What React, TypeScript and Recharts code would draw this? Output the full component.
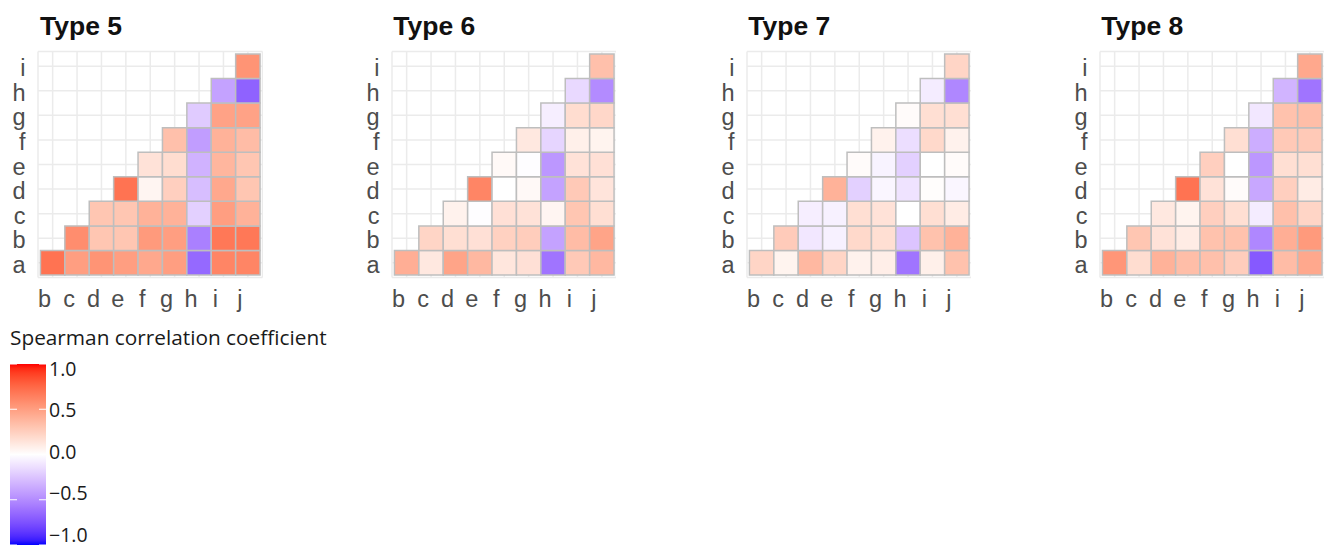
import React from 'react';
import { ScatterChart, Scatter, XAxis, YAxis, CartesianGrid, ReferenceArea } from 'recharts';

// ---------- data ----------
const xCategories = ['b', 'c', 'd', 'e', 'f', 'g', 'h', 'i', 'j'];
const yCategories = ['a', 'b', 'c', 'd', 'e', 'f', 'g', 'h', 'i'];
const panelTitles = ['Type 5', 'Type 6', 'Type 7', 'Type 8'];
const legendTitle = 'Spearman correlation coefficient';
const legendTicks = [1.0, 0.5, 0.0, -0.5, -1.0];

// each row (a..i) lists the coefficients for the columns after it, up to j
const type5 = [
  [0.70, 0.50, 0.55, 0.50, 0.45, 0.50, -0.65, 0.62, 0.62],
  [0.58, 0.30, 0.30, 0.52, 0.50, -0.55, 0.68, 0.68],
  [0.30, 0.30, 0.40, 0.40, -0.20, 0.50, 0.40],
  [0.70, 0.05, 0.25, -0.28, 0.45, 0.30],
  [0.15, 0.18, -0.33, 0.38, 0.30],
  [0.33, -0.42, 0.40, 0.35],
  [-0.22, 0.48, 0.48],
  [-0.40, -0.68],
  [0.55],
];
const type6 = [
  [0.42, 0.12, 0.47, 0.37, 0.13, 0.16, -0.60, 0.28, 0.37],
  [0.22, 0.17, 0.16, 0.24, 0.26, -0.40, 0.35, 0.47],
  [0.07, -0.01, 0.16, 0.15, 0.05, 0.30, 0.17],
  [0.62, 0.00, 0.03, -0.40, 0.28, 0.14],
  [0.03, -0.01, -0.45, 0.15, 0.16],
  [0.12, -0.18, 0.08, 0.06],
  [-0.07, 0.18, 0.21],
  [-0.16, -0.50],
  [0.33],
];
const type7 = [
  [0.22, 0.06, 0.37, 0.22, 0.07, 0.09, -0.60, 0.08, 0.32],
  [0.27, -0.10, -0.06, 0.20, 0.17, -0.25, 0.32, 0.40],
  [-0.07, -0.06, 0.17, 0.15, 0.00, 0.17, 0.10],
  [0.40, -0.20, -0.04, -0.12, 0.01, -0.04],
  [0.02, -0.05, -0.20, 0.00, 0.02],
  [0.07, -0.14, 0.20, 0.07],
  [0.02, 0.17, 0.17],
  [-0.08, -0.52],
  [0.22],
];
const type8 = [
  [0.54, 0.18, 0.40, 0.34, 0.33, 0.26, -0.72, 0.35, 0.45],
  [0.30, 0.15, 0.10, 0.32, 0.32, -0.52, 0.42, 0.52],
  [0.12, 0.06, 0.25, 0.17, -0.08, 0.33, 0.22],
  [0.70, 0.15, 0.02, -0.38, 0.25, 0.10],
  [0.25, 0.00, -0.45, 0.17, 0.17],
  [0.17, -0.35, 0.28, 0.28],
  [-0.10, 0.32, 0.34],
  [-0.32, -0.60],
  [0.45],
];
const panelValues = [type5, type6, type7, type8];

// ---------- colour scale (white -> red / blue, Lab interpolation) ----------
const Xn = 0.95047, Yn = 1.0, Zn = 1.08883;
function toLin(c: number) { c /= 255; return c <= 0.04045 ? c / 12.92 : Math.pow((c + 0.055) / 1.055, 2.4); }
function fromLin(c: number) { const v = c <= 0.0031308 ? 12.92 * c : 1.055 * Math.pow(c, 1 / 2.4) - 0.055; return Math.round(Math.max(0, Math.min(1, v)) * 255); }
function rgbToLab(rgb: number[]) {
  const [r, g, b] = rgb.map(toLin);
  const X = (0.4124 * r + 0.3576 * g + 0.1805 * b) / Xn;
  const Y = (0.2126 * r + 0.7152 * g + 0.0722 * b) / Yn;
  const Z = (0.0193 * r + 0.1192 * g + 0.9505 * b) / Zn;
  const f = (t: number) => (t > 0.008856 ? Math.cbrt(t) : 7.787 * t + 16 / 116);
  const fx = f(X), fy = f(Y), fz = f(Z);
  return [116 * fy - 16, 500 * (fx - fy), 200 * (fy - fz)];
}
function labToHex(lab: number[]) {
  const [L, a, b] = lab;
  const fy = (L + 16) / 116, fx = fy + a / 500, fz = fy - b / 200;
  const finv = (t: number) => (t * t * t > 0.008856 ? t * t * t : (t - 16 / 116) / 7.787);
  const X = finv(fx) * Xn, Y = finv(fy) * Yn, Z = finv(fz) * Zn;
  const r = 3.2406 * X - 1.5372 * Y - 0.4986 * Z;
  const g = -0.9689 * X + 1.8758 * Y + 0.0415 * Z;
  const bb = 0.0557 * X - 0.204 * Y + 1.057 * Z;
  return '#' + [fromLin(r), fromLin(g), fromLin(bb)].map((v) => v.toString(16).padStart(2, '0')).join('');
}
const LAB_WHITE = rgbToLab([255, 255, 255]);
const LAB_RED = rgbToLab([255, 0, 0]);
const LAB_BLUE = rgbToLab([0, 0, 255]);
function corrColor(v: number) {
  const t = Math.min(1, Math.abs(v));
  const end = v >= 0 ? LAB_RED : LAB_BLUE;
  return labToHex(LAB_WHITE.map((w, i) => w + (end[i] - w) * t));
}

// ---------- layout ----------
const PANEL_LEFTS = [38.3, 391.6, 746.6, 1099.6];
const PLOT_TOP = 51.5;
const PLOT_W = 224.5;
const PLOT_H = 226;
const Y_AXIS_W = 36;
const X_AXIS_H = 40;
const tickNums = xCategories.map((_, i) => i + 1);
const TICK_FONT = '"Liberation Sans", Arial, sans-serif';

const XTick = (props: any) => {
  const { x, y, payload } = props;
  return (
    <text x={x - 8} y={y + 29.5} textAnchor="middle" fontSize={23.5} fontFamily={TICK_FONT} fill="#4D4D4D">
      {xCategories[payload.value - 1]}
    </text>
  );
};
const YTick = (props: any) => {
  const { x, y, payload } = props;
  return (
    <text x={x - 12.5} y={y + 10} textAnchor="end" fontSize={23.5} fontFamily={TICK_FONT} fill="#4D4D4D">
      {yCategories[payload.value - 1]}
    </text>
  );
};

function Panel({ values, left }: { values: number[][]; left: number }) {
  const cells: { x: number; y: number; v: number }[] = [];
  values.forEach((row, r) => row.forEach((v, k) => cells.push({ x: r + k + 1, y: r + 1, v })));
  return (
    <div style={{ position: 'absolute', left: left - Y_AXIS_W, top: 0 }}>
      <ScatterChart
        width={Y_AXIS_W + PLOT_W}
        height={PLOT_TOP + PLOT_H + X_AXIS_H}
        margin={{ top: PLOT_TOP, right: 0, bottom: 0, left: 0 }}
      >
        <CartesianGrid stroke="#EBEBEB" strokeWidth={1.5} />
        <XAxis
          type="number"
          dataKey="x"
          domain={[0.4, 9.6]}
          ticks={tickNums}
          interval={0}
          axisLine={false}
          tickLine={false}
          tickSize={0}
          tickMargin={0}
          height={X_AXIS_H}
          tick={<XTick />}
        />
        <YAxis
          type="number"
          dataKey="y"
          domain={[0.4, 9.6]}
          ticks={tickNums}
          interval={0}
          axisLine={false}
          tickLine={false}
          tickSize={0}
          tickMargin={0}
          width={Y_AXIS_W}
          tick={<YTick />}
        />
        {cells.map((c, i) => (
          <ReferenceArea
            key={i}
            x1={c.x - 0.5}
            x2={c.x + 0.5}
            y1={c.y - 0.5}
            y2={c.y + 0.5}
            fill={corrColor(c.v)}
            fillOpacity={1}
            stroke="#BEBEBE"
            strokeWidth={1.5}
            ifOverflow="visible"
          />
        ))}
        <Scatter data={cells} isAnimationActive={false} shape={() => <g />} />
      </ScatterChart>
    </div>
  );
}

function Overlay() {
  const BAR_X = 10, BAR_Y = 364, BAR_W = 36, BAR_H = 181;
  const LABEL_TOP = 369, LABEL_SPAN = 166;
  const stops = Array.from({ length: 41 }, (_, i) => i / 40);
  const fmt = (v: number) => (v < 0 ? '\u2212' : '') + Math.abs(v).toFixed(1);
  const legendFont = '"Open Sans", "Noto Sans", sans-serif';
  return (
    <svg width={1326} height={550} style={{ position: 'absolute', left: 0, top: 0, pointerEvents: 'none' }}>
      <defs>
        <linearGradient id="corrGrad" x1="0" y1="0" x2="0" y2="1">
          {stops.map((s) => (
            <stop key={s} offset={s} stopColor={corrColor(1 - 2 * s)} />
          ))}
        </linearGradient>
      </defs>
      {panelTitles.map((t, i) => (
        <text key={t} x={PANEL_LEFTS[i] + 1.7} y={35} fontSize={26.5} fontWeight="bold" fontFamily={TICK_FONT} fill="#111">
          {t}
        </text>
      ))}
      <text x={10} y={345} fontSize={20.8} fontFamily={legendFont} fill="#1a1a1a">
        {legendTitle}
      </text>
      <rect x={BAR_X} y={BAR_Y} width={BAR_W} height={BAR_H} fill="url(#corrGrad)" />
      {legendTicks.map((v) => {
        const ty = BAR_Y + ((1 - v) / 2) * BAR_H;
        return (
          <g key={'t' + v}>
            <line x1={BAR_X} x2={BAR_X + 7} y1={ty} y2={ty} stroke="#fff" strokeWidth={1} />
            <line x1={BAR_X + BAR_W - 7} x2={BAR_X + BAR_W} y1={ty} y2={ty} stroke="#fff" strokeWidth={1} />
          </g>
        );
      })}
      {legendTicks.map((v) => (
        <text key={'l' + v} x={49} y={LABEL_TOP + ((1 - v) / 2) * LABEL_SPAN + 6.6} fontSize={19.5} fontFamily={legendFont} fill="#1a1a1a">
          {fmt(v)}
        </text>
      ))}
    </svg>
  );
}

export default function App() {
  return (
    <div style={{ position: 'absolute', left: 0, top: 0, width: 1326, height: 550, background: '#fff' }}>
      {panelValues.map((vals, i) => (
        <Panel key={i} values={vals} left={PANEL_LEFTS[i]} />
      ))}
      <Overlay />
    </div>
  );
}
